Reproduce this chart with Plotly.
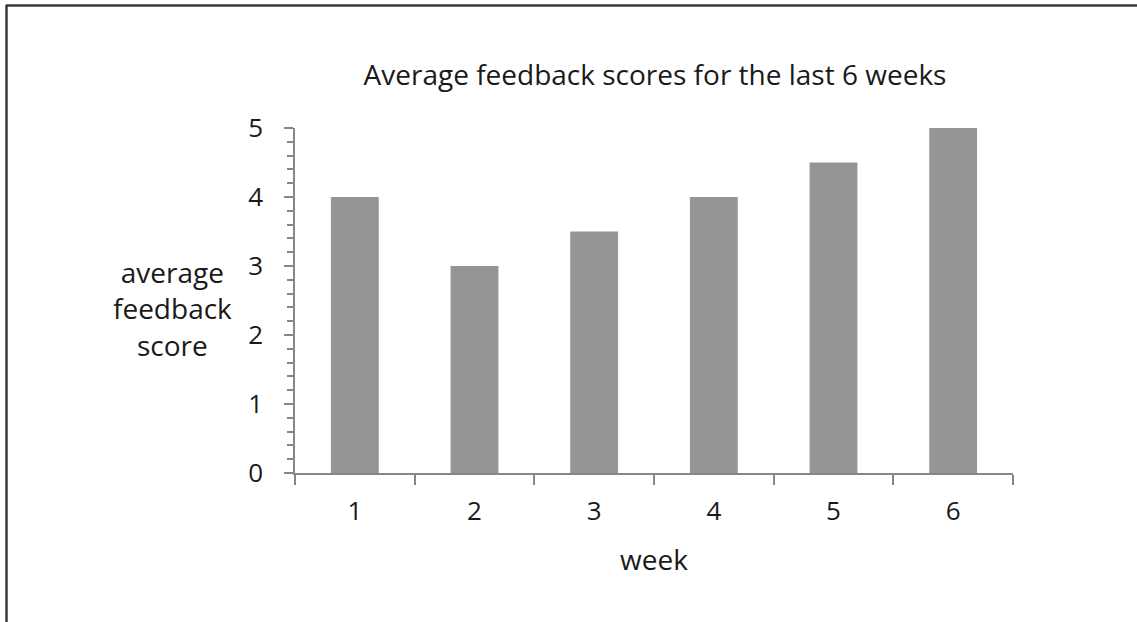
import plotly.graph_objects as go

weeks = ["1", "2", "3", "4", "5", "6"]
scores = [4, 3, 3.5, 4, 4.5, 5]

W, H = 1137, 622
L, R, T, B = 295, 1013, 128, 473

FONT = "Open Sans"
TXT = "#1a1a1a"
AX = "#868686"

fig = go.Figure(go.Bar(x=weeks, y=scores, marker=dict(color="#959595", line_width=0), width=0.40))

def px(x):
    return (x - L) / (R - L)

def py(y):
    return (B - y) / (B - T)

fig.update_layout(
    width=W, height=H,
    margin=dict(l=L, r=W - R, t=T, b=H - B, pad=0),
    paper_bgcolor="white", plot_bgcolor="white",
    showlegend=False,
    font=dict(family=FONT, size=26, color=TXT),
    title=dict(text="Average feedback scores for the last 6 weeks", xref="container", x=655 / W,
               xanchor="center", yref="container", y=1 - 75 / H, yanchor="middle",
               font=dict(size=28, color=TXT, family=FONT)),
    xaxis=dict(type="category", showline=True, linecolor=AX, linewidth=1.5,
               ticks="outside", ticklen=10, tickcolor=AX, tickwidth=1.5, tickson="boundaries",
               showgrid=False, zeroline=False, tickfont=dict(size=26), ticklabelstandoff=14,
               title=dict(text="week", font=dict(size=28), standoff=23)),
    yaxis=dict(range=[0, 5], dtick=1, showline=True, linecolor=AX, linewidth=1.5,
               ticks="outside", ticklen=9, tickcolor=AX, tickwidth=1.5,
               showgrid=False, zeroline=False, tickfont=dict(size=26), ticklabelstandoff=16,
               minor=dict(dtick=0.2, ticks="outside", ticklen=6, tickcolor=AX, tickwidth=1.5, showgrid=False)),
    annotations=[dict(text="average<br>feedback<br>score", x=px(172), y=py(308), xref="paper", yref="paper",
                      showarrow=False, xanchor="center", yanchor="middle", align="center",
                      font=dict(size=28, color=TXT, family=FONT))],
    shapes=[
        dict(type="line", xref="paper", yref="paper", x0=px(6), x1=px(W + 5), y0=py(5.5), y1=py(5.5),
             line=dict(color="#3a3a3a", width=2.5)),
        dict(type="line", xref="paper", yref="paper", x0=px(6.5), x1=px(6.5), y0=py(5), y1=py(H + 5),
             line=dict(color="#3a3a3a", width=2.5)),
    ],
)

fig.write_html("out.html", config={"displayModeBar": False},
               post_script="document.body.style.margin='0';document.body.style.padding='0';")
